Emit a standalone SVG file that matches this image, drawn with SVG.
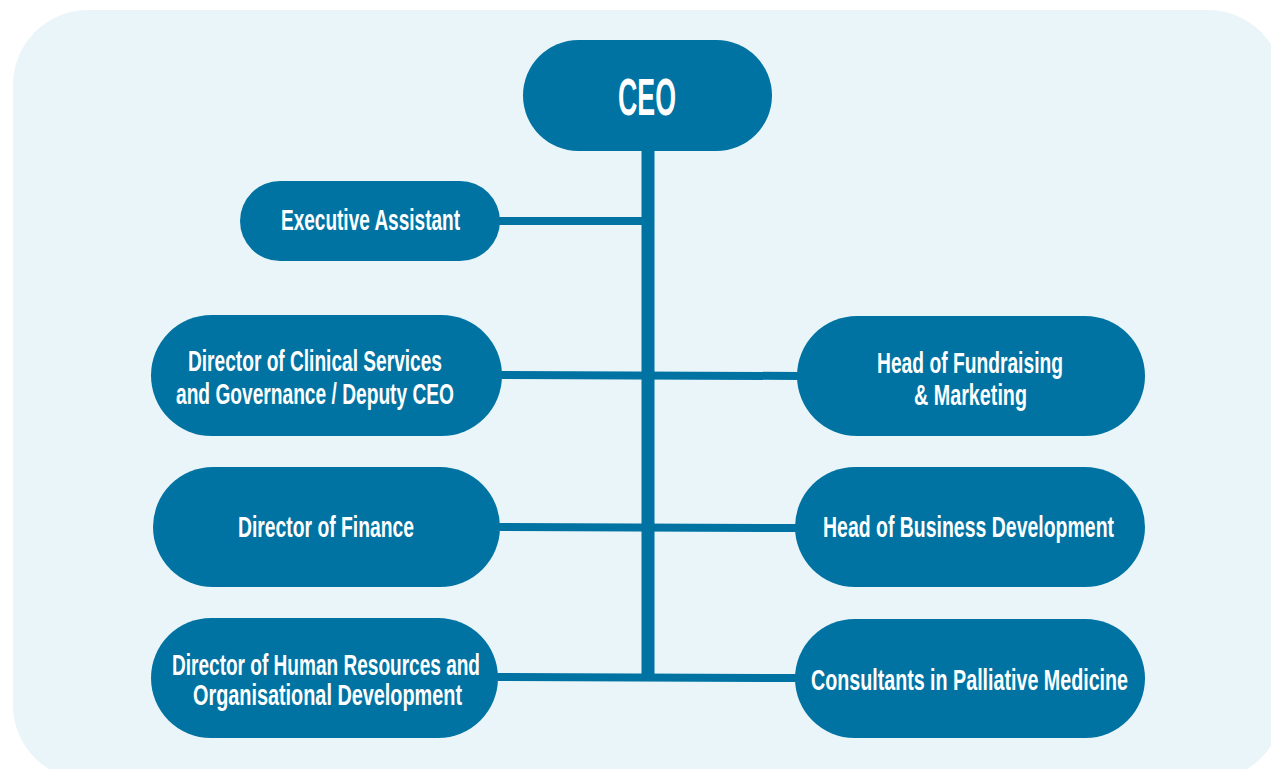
<svg xmlns="http://www.w3.org/2000/svg" width="1271" height="769" viewBox="0 0 1271 769">
  <style>
    .node { fill: #0073a3; }
    .label { fill: #ffffff; font-family: "Liberation Sans", Arial, sans-serif; font-weight: bold; font-size: 29px; text-anchor: middle; }
    .ceo { font-size: 52px; }
    .link { stroke: #0073a3; stroke-width: 8; fill: none; }
    .trunk { stroke: #0073a3; stroke-width: 13; fill: none; }
  </style>
  <rect width="1271" height="769" fill="#ffffff"/>
  <rect x="13" y="10" width="1270" height="770" rx="75" ry="75" fill="#e9f5f8"/>

  <g id="connectors">
    <line class="trunk" x1="648" y1="150" x2="648" y2="681"/>
    <line class="link" x1="498" y1="221" x2="648" y2="221"/>
    <line class="link" x1="500" y1="375" x2="800" y2="376"/>
    <line class="link" x1="498" y1="527" x2="798" y2="528"/>
    <line class="link" x1="496" y1="677" x2="798" y2="678"/>
  </g>

  <g id="ceo">
    <rect class="node" x="523" y="40" width="249" height="111" rx="55.5"/>
    <text class="label ceo" x="647" y="115" textLength="58" lengthAdjust="spacingAndGlyphs">CEO</text>
  </g>

  <g id="executive-assistant">
    <rect class="node" x="240" y="181" width="260" height="80" rx="40"/>
    <text class="label" x="370.5" y="230" textLength="179" lengthAdjust="spacingAndGlyphs">Executive Assistant</text>
  </g>

  <g id="director-clinical">
    <rect class="node" x="151" y="315" width="351" height="121" rx="60.5"/>
    <text class="label" x="315" y="371" textLength="254" lengthAdjust="spacingAndGlyphs">Director of Clinical Services</text>
    <text class="label" x="315" y="404" textLength="278" lengthAdjust="spacingAndGlyphs">and Governance / Deputy CEO</text>
  </g>

  <g id="head-fundraising">
    <rect class="node" x="797" y="316" width="348" height="120" rx="60"/>
    <text class="label" x="970" y="373" textLength="186" lengthAdjust="spacingAndGlyphs">Head of Fundraising</text>
    <text class="label" x="970.5" y="405" textLength="113" lengthAdjust="spacingAndGlyphs">&amp; Marketing</text>
  </g>

  <g id="director-finance">
    <rect class="node" x="153" y="467" width="347" height="120" rx="60"/>
    <text class="label" x="326" y="537" textLength="176" lengthAdjust="spacingAndGlyphs">Director of Finance</text>
  </g>

  <g id="head-business-development">
    <rect class="node" x="795" y="467" width="350" height="120" rx="60"/>
    <text class="label" x="968.5" y="537" textLength="291" lengthAdjust="spacingAndGlyphs">Head of Business Development</text>
  </g>

  <g id="director-hr">
    <rect class="node" x="151" y="618" width="347" height="120" rx="60"/>
    <text class="label" x="326" y="675" textLength="308" lengthAdjust="spacingAndGlyphs">Director of Human Resources and</text>
    <text class="label" x="327.5" y="705" textLength="269" lengthAdjust="spacingAndGlyphs">Organisational Development</text>
  </g>

  <g id="consultants">
    <rect class="node" x="795" y="619" width="350" height="119" rx="59.5"/>
    <text class="label" x="969.5" y="690" textLength="317" lengthAdjust="spacingAndGlyphs">Consultants in Palliative Medicine</text>
  </g>
</svg>
